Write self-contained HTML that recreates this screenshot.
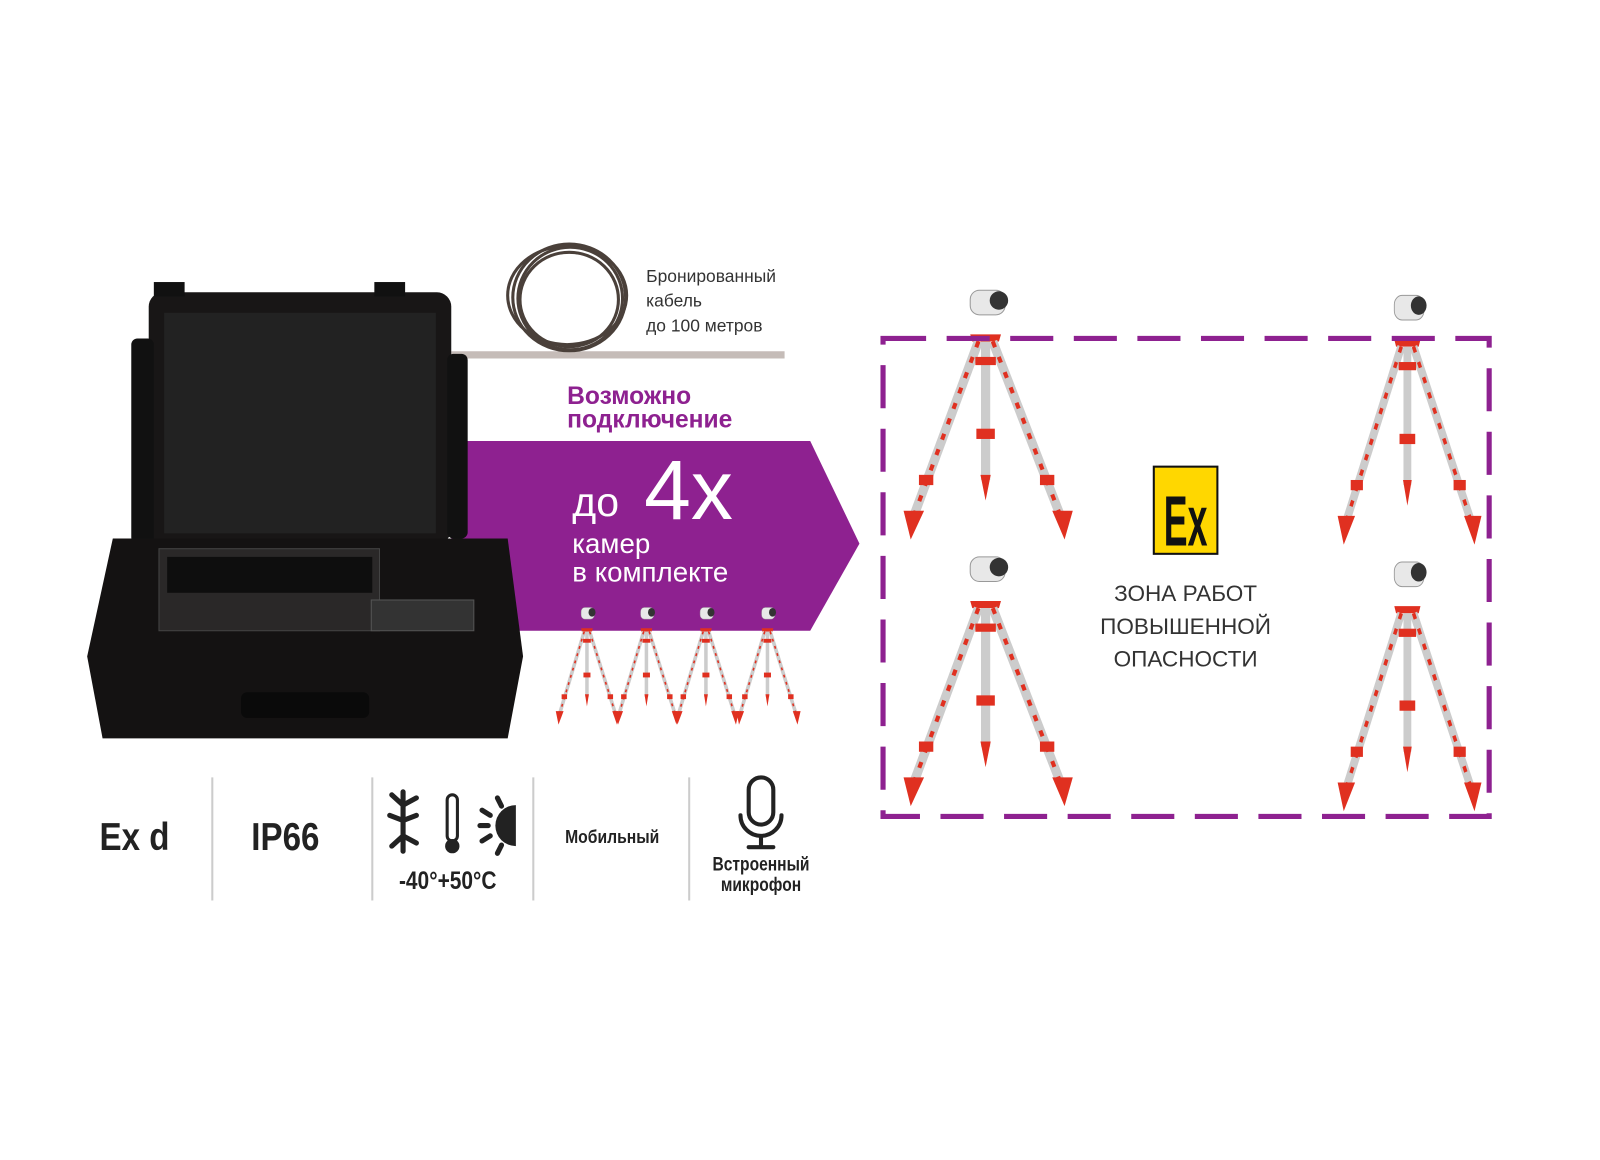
<!DOCTYPE html>
<html><head><meta charset="utf-8"><style>
body{margin:0;background:#fff;width:1600px;height:1131px;overflow:hidden;position:relative;font-family:"Liberation Sans",sans-serif}
#w{position:absolute;left:0;top:0;width:1600px;height:1131px;transform:scale(1.0256);transform-origin:0 0}
.t{position:absolute;white-space:nowrap}
.c{font-family:"Liberation Sans Narrow","Liberation Sans",sans-serif;font-weight:bold;color:#222}
</style></head><body><div id="w">
<svg width="1600" height="1131" style="position:absolute;left:0;top:0">
<defs>
<g id="tp">
<rect x="70" y="5" width="34" height="24" rx="9" fill="#e8e8e8" stroke="#999"/>
<circle cx="98" cy="15" r="9" fill="#333"/>
<path d="M72 55 L98 55 L100 48 L70 48Z" fill="#e03020"/>
<line x1="78" y1="55" x2="15" y2="225" stroke="#ccc" stroke-width="9"/>
<line x1="92" y1="55" x2="158" y2="225" stroke="#ccc" stroke-width="9"/>
<line x1="85" y1="55" x2="85" y2="190" stroke="#ccc" stroke-width="9"/>
<line x1="78" y1="55" x2="15" y2="225" stroke="#e03020" stroke-width="4" stroke-dasharray="6 10"/>
<line x1="92" y1="55" x2="158" y2="225" stroke="#e03020" stroke-width="4" stroke-dasharray="6 10"/>
<rect x="75" y="70" width="20" height="8" fill="#e03020"/>
<rect x="76" y="140" width="18" height="10" fill="#e03020"/>
<path d="M80 185 L90 185 L85 210Z" fill="#e03020"/>
<path d="M5 220 L25 220 L12 248Z" fill="#e03020"/>
<path d="M150 220 L170 220 L162 248Z" fill="#e03020"/>
<rect x="20" y="185" width="14" height="10" fill="#e03020"/>
<rect x="138" y="185" width="14" height="10" fill="#e03020"/>
</g>
</defs>
<polygon points="440,430 790,430 838,530 790,615 500,615 440,615" fill="#8e2190"/>
<line x1="440" y1="346" x2="765" y2="346" stroke="#c5bcb8" stroke-width="7"/>
<g fill="none" stroke="#4a403a" stroke-width="3">
<ellipse cx="555" cy="290" rx="55" ry="52"/><ellipse cx="555" cy="292" rx="48" ry="46"/><ellipse cx="553" cy="288" rx="58" ry="48"/><ellipse cx="556" cy="291" rx="51" ry="50"/>
</g>
<rect x="145" y="285" width="295" height="245" rx="14" fill="#181616"/>
<rect x="160" y="305" width="265" height="215" fill="#222"/>
<rect x="128" y="330" width="22" height="200" rx="6" fill="#111"/>
<rect x="436" y="345" width="20" height="180" rx="6" fill="#111"/>
<rect x="150" y="275" width="30" height="14" fill="#111"/><rect x="365" y="275" width="30" height="14" fill="#111"/>
<path d="M110 525 L495 525 L510 640 L495 720 L100 720 L85 640Z" fill="#141212"/>
<rect x="155" y="535" width="215" height="80" fill="#2a2828" stroke="#444"/>
<rect x="163" y="543" width="200" height="35" fill="#0e0e0e"/>
<rect x="362" y="585" width="100" height="30" fill="#333" stroke="#555"/>
<rect x="235" y="675" width="125" height="25" rx="6" fill="#0a0a0a"/>
<use href="#tp" transform="translate(540,590) scale(0.38,0.47)"/>
<use href="#tp" transform="translate(598,590) scale(0.38,0.47)"/>
<use href="#tp" transform="translate(656,590) scale(0.38,0.47)"/>
<use href="#tp" transform="translate(716,590) scale(0.38,0.47)"/>
<use href="#tp" transform="translate(876,278)"/>
<use href="#tp" transform="translate(1300,283) scale(0.85,1)"/>
<use href="#tp" transform="translate(876,538)"/>
<use href="#tp" transform="translate(1300,543) scale(0.85,1)"/>
<rect x="861" y="330" width="591" height="466" fill="none" stroke="#8e2190" stroke-width="5" stroke-dasharray="42 20"/>
<rect x="1125" y="455" width="62" height="85" fill="#ffd700" stroke="#111" stroke-width="2"/>
<text x="0" y="0" font-family="Liberation Sans" font-weight="bold" font-size="58" text-anchor="middle" fill="#111" transform="translate(1156,532) scale(0.6,1.2)">Ex</text>
<g stroke="#ccc" stroke-width="2"><line x1="207" y1="758" x2="207" y2="878"/><line x1="363" y1="758" x2="363" y2="878"/><line x1="520" y1="758" x2="520" y2="878"/><line x1="672" y1="758" x2="672" y2="878"/></g>
<g stroke="#222" stroke-width="5" fill="none" stroke-linecap="round">
<line x1="393" y1="772" x2="393" y2="830"/><line x1="393" y1="785" x2="406" y2="778"/><line x1="393" y1="785" x2="382" y2="775"/><line x1="393" y1="800" x2="406" y2="795"/><line x1="393" y1="800" x2="380" y2="795"/><line x1="393" y1="815" x2="406" y2="822"/><line x1="393" y1="815" x2="382" y2="825"/>
<rect x="436" y="775" width="10" height="45" rx="5" stroke-width="3"/>
<line x1="470" y1="790" x2="478" y2="795"/><line x1="468" y1="805" x2="476" y2="805"/><line x1="470" y1="820" x2="478" y2="815"/><line x1="485" y1="778" x2="489" y2="786"/><line x1="485" y1="832" x2="489" y2="824"/>
<path d="M730 770 a12 12 0 0 1 24 0 v22 a12 12 0 0 1 -24 0z" stroke-width="4"/>
<path d="M722 795 a20 20 0 0 0 40 0" stroke-width="4"/><line x1="742" y1="815" x2="742" y2="825" stroke-width="4"/><line x1="730" y1="826" x2="754" y2="826" stroke-width="4"/>
</g>
<circle cx="441" cy="825" r="7" fill="#222"/>
<path d="M503 785 a20 20 0 0 0 0 40z" fill="#222"/>
</svg>
<div class="t" style="left:630px;top:258px;font-size:17px;line-height:24px;color:#333">Бронированный<br>кабель<br>до 100 метров</div>
<div class="t" style="left:553px;top:375px;font-size:24px;line-height:23px;font-weight:bold;color:#8e2190">Возможно<br>подключение</div>
<div class="t" style="left:558px;top:468px;font-size:40px;color:#fff">до</div>
<div class="t" style="left:628px;top:432px;font-size:82px;color:#fff">4x</div>
<div class="t" style="left:558px;top:516px;font-size:27px;line-height:28px;color:#fff">камер<br>в комплекте</div>
<div class="t" style="left:1040px;top:563px;width:232px;text-align:center;font-size:22px;line-height:32px;color:#333">ЗОНА РАБОТ<br>ПОВЫШЕННОЙ<br>ОПАСНОСТИ</div>
<div class="t c" style="left:97px;top:796px;font-size:38px;transform:scaleX(.85);transform-origin:left">Ex d</div>
<div class="t c" style="left:245px;top:796px;font-size:38px;transform:scaleX(.85);transform-origin:left">IP66</div>
<div class="t c" style="left:389px;top:846px;font-size:24px;transform:scaleX(.85);transform-origin:left">-40°+50°C</div>
<div class="t c" style="left:551px;top:806px;font-size:18px;transform:scaleX(.85);transform-origin:left">Мобильный</div>
<div class="t c" style="left:680px;top:834px;width:124px;text-align:center;font-size:19px;line-height:20px;transform:scaleX(.8)">Встроенный<br>микрофон</div>
</div></body></html>
